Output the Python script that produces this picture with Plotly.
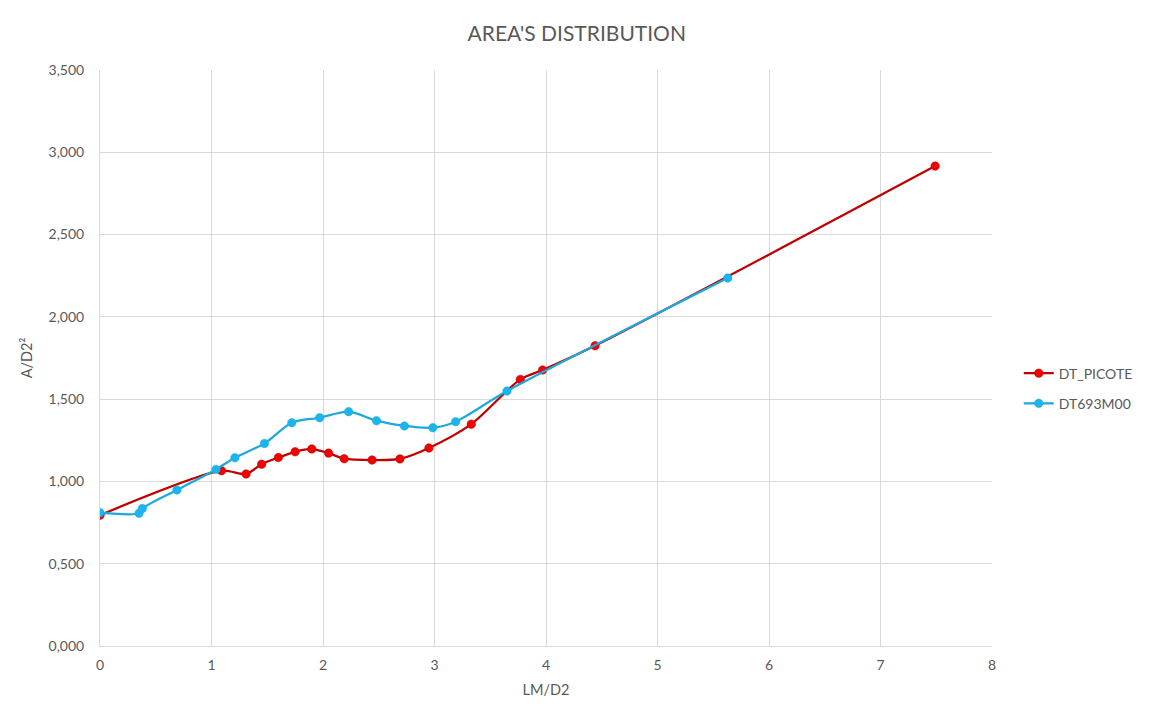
import plotly.graph_objects as go

# DT_PICOTE series
picote_x = [0.0, 1.09, 1.31, 1.45, 1.60, 1.75, 1.90, 2.05, 2.19, 2.44, 2.69, 2.95, 3.33, 3.77, 3.97, 4.44, 7.49]
picote_y = [0.795, 1.065, 1.045, 1.105, 1.145, 1.180, 1.197, 1.172, 1.138, 1.130, 1.137, 1.203, 1.348, 1.620, 1.677, 1.824, 2.916]

# DT693M00 series
m00_x = [0.0, 0.35, 0.38, 0.69, 1.04, 1.21, 1.475, 1.72, 1.97, 2.23, 2.48, 2.73, 2.985, 3.19, 3.65, 5.63]
m00_y = [0.810, 0.806, 0.836, 0.948, 1.073, 1.144, 1.231, 1.357, 1.387, 1.424, 1.369, 1.337, 1.326, 1.363, 1.549, 2.236]

y_tickvals = [0, 0.5, 1.0, 1.5, 2.0, 2.5, 3.0, 3.5]
y_ticktext = ["0,000", "0,500", "1,000", "1,500", "2,000", "2,500", "3,000", "3,500"]
x_tickvals = [0, 1, 2, 3, 4, 5, 6, 7, 8]

grey = "#595959"
grid = "#D9D9D9"

fig = go.Figure()
fig.add_trace(go.Scatter(
    x=picote_x, y=picote_y, name="DT_PICOTE", mode="lines+markers", legendgroup="a",
    line=dict(color="#C00000", width=2.25, shape="spline", smoothing=0.8),
    marker=dict(color="#F00000", size=8.5, line=dict(color="#C00000", width=0.5)),
))
fig.add_trace(go.Scatter(
    x=m00_x, y=m00_y, name="DT693M00", mode="lines+markers", legendgroup="b",
    line=dict(color="#1DA9DD", width=2.25, shape="spline", smoothing=0.8),
    marker=dict(color="#1CB4EC", size=8.5, line=dict(color="#1DA9DD", width=0.5)),
))

fig.update_layout(
    width=1156, height=714,
    paper_bgcolor="white", plot_bgcolor="white",
    font=dict(family="Lato, Open Sans, sans-serif", color=grey, size=13),
    margin=dict(l=92, r=172, t=62, b=76),
    title=dict(text="AREA'S DISTRIBUTION", x=0.492, xanchor="center", y=0.964, yanchor="middle",
               font=dict(size=21, color=grey)),
    legend=dict(x=1.03, y=0.447, xanchor="left", yanchor="middle",
                font=dict(size=14, color=grey), bgcolor="rgba(0,0,0,0)",
                tracegroupgap=9),
    showlegend=True,
)
fig.update_xaxes(
    range=[0, 8], tickvals=x_tickvals, showgrid=True, gridcolor=grid, gridwidth=1,
    showline=True, linecolor=grid, linewidth=1, zeroline=False,
    ticks="", ticklabelstandoff=6,
    title=dict(text="LM/D2", font=dict(size=14.5, color=grey), standoff=13),
    tickfont=dict(size=14, color=grey),
)
fig.update_yaxes(
    range=[0, 3.5], tickvals=y_tickvals, ticktext=y_ticktext, showgrid=True,
    gridcolor=grid, gridwidth=1, showline=True, linecolor=grid, linewidth=1,
    zeroline=False, ticks="", ticklabelstandoff=12,
    title=dict(text="A/D2²", font=dict(size=14.5, color=grey), standoff=12),
    tickfont=dict(size=14, color=grey),
)

fig.write_html("out.html")
